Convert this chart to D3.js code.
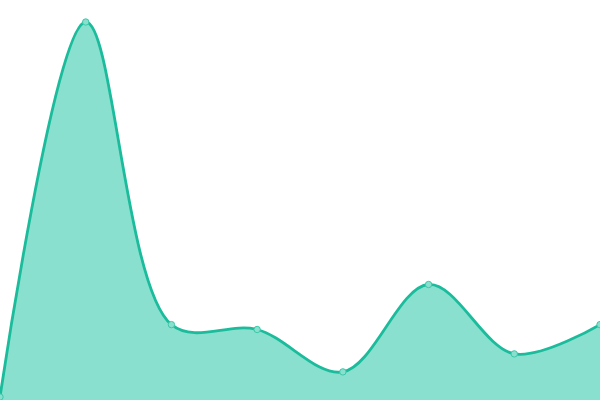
<!DOCTYPE html>
<html>
<head>
<meta charset="utf-8">
<script src="https://cdn.jsdelivr.net/npm/d3@7"></script>
<style>
  body { margin: 0; background: #fff; }
</style>
</head>
<body>
<div class="box"></div>
<script>
const dims = {width: 600, height: 400};

// valeurs
const labels = ['1', '2', '3', '4', '5', '6', '7', '8'];
const valeurs = [0, 100, 19.3, 18, 6.7, 30, 11.5, 19.3];

const svg = d3.select('.box')
              .append('svg')
              .attr('width', dims.width)
              .attr('height', dims.height);

const x = d3.scalePoint()
            .domain(labels)
            .range([0, dims.width]);

const y = d3.scaleLinear()
            .domain([0, 100])
            .range([397, 22]);

const donnee = labels.map((l, i) => ({label: l, val: valeurs[i]}));

const courbe = d3.curveCatmullRom.alpha(0.5);

const area = d3.area()
               .x(d => x(d.label))
               .y0(dims.height)
               .y1(d => y(d.val))
               .curve(courbe);

const line = d3.line()
               .x(d => x(d.label))
               .y(d => y(d.val))
               .curve(courbe);

svg.append('path')
   .datum(donnee)
   .attr('d', area)
   .attr('fill', '#8ae0cf');

svg.append('path')
   .datum(donnee)
   .attr('d', line)
   .attr('fill', 'none')
   .attr('stroke', '#1abc9c')
   .attr('stroke-width', 2.8);

svg.selectAll('circle')
   .data(donnee)
   .enter()
   .append('circle')
   .attr('cx', d => x(d.label))
   .attr('cy', d => y(d.val))
   .attr('r', 3.2)
   .attr('fill', '#8ae0cf')
   .attr('stroke', '#3cc8a8')
   .attr('stroke-width', 1);
</script>
</body>
</html>
